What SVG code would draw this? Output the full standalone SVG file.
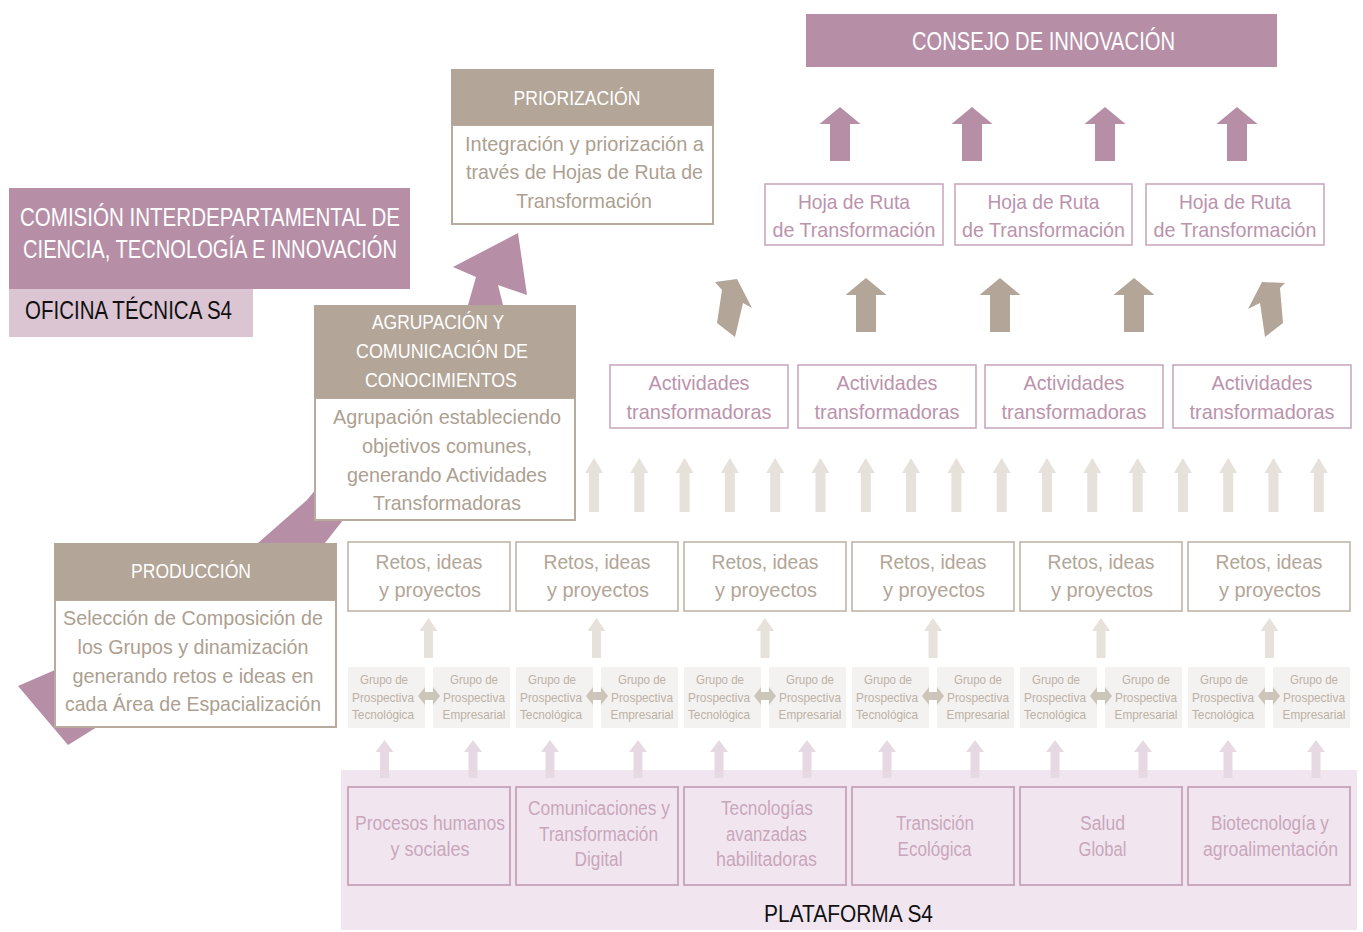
<svg xmlns="http://www.w3.org/2000/svg" width="1363" height="932" viewBox="0 0 1363 932">
<style>
text{font-family:"Liberation Sans",Arial,sans-serif;text-anchor:middle}
.wh{fill:#ffffff}
.hdr{fill:#b3a597}
.pur{fill:#b68ea6}
.body{fill:#ffffff;stroke:#b8ab9e;stroke-width:2}
.bt{fill:#ad9f91;font-size:21px}
.ht{fill:#ffffff;font-size:20px}
.reto{fill:#ffffff;stroke:#c0b4a8;stroke-width:1.6}
.rt{fill:#b3a597;font-size:21px}
.pk{fill:#ffffff;stroke:#caa9be;stroke-width:1.6}
.pkt{fill:#bb93ac;font-size:21px}
.grp{fill:#f4f2f0}
.gt{fill:#bcb1a6;font-size:13px}
.plat{fill:none;stroke:#c6a2b9;stroke-width:1.8}
.plt{fill:#c9a6bc;font-size:20px}
.la{fill:#e6e1db}
.pa{fill:#e7d9e3}
.ba{fill:#b3a597}
.da{fill:#cdc4ba}
</style>
<defs>
<path id="upL" d="M0,0 L9,15 L5,15 L5,54 L-5,54 L-5,15 L-9,15 Z"/>
<path id="upS" d="M0,0 L9,13 L4.5,13 L4.5,40 L-4.5,40 L-4.5,13 L-9,13 Z"/>
<path id="upP" d="M0,0 L9,12 L4.5,12 L4.5,38 L-4.5,38 L-4.5,12 L-9,12 Z"/>
<path id="upB" d="M0,0 L20.5,17 L10,17 L10,54 L-10,54 L-10,17 L-20.5,17 Z"/>
<path id="dbl" d="M-11,0 L-4,-9 L-4,-4 L4,-4 L4,-9 L11,0 L4,9 L4,4 L-4,4 L-4,9 Z"/>
</defs>
<rect width="1363" height="932" fill="#ffffff"/>

<g id="plataforma">
<rect x="341" y="770" width="1016" height="160" fill="#f1e6ef"/>
<text x="848.5" y="922" font-size="24" fill="#111111" textLength="169" lengthAdjust="spacingAndGlyphs">PLATAFORMA S4</text>
</g>

<g id="flow-arrow">
<path class="pur" d="M18,686 L68,745 L97,727 L325,543 L343,520 L503,305 L498,285 L527,295 L518,233 L453,267 L476,277 L468,305 L307,500 L258,543 L55,670 Z"/>
</g>

<g id="comision">
<rect x="9" y="188" width="401" height="101" class="pur"/>
<text x="210" y="226" font-size="26" class="wh" textLength="380" lengthAdjust="spacingAndGlyphs">COMISIÓN INTERDEPARTAMENTAL DE</text>
<text x="210" y="258" font-size="26" class="wh" textLength="374" lengthAdjust="spacingAndGlyphs">CIENCIA, TECNOLOGÍA E INNOVACIÓN</text>
</g>
<g id="oficina">
<rect x="9" y="289" width="244" height="48" fill="#dbc5d3"/>
<text x="128.5" y="319" font-size="25" fill="#111111" textLength="207" lengthAdjust="spacingAndGlyphs">OFICINA TÉCNICA S4</text>
</g>

<g id="consejo">
<rect x="806" y="14" width="471" height="53" class="pur"/>
<text x="1043.5" y="50" font-size="25" class="wh" textLength="263" lengthAdjust="spacingAndGlyphs">CONSEJO DE INNOVACIÓN</text>
</g>

<g id="priorizacion">
<rect x="452" y="125" width="261" height="99" class="body"/>
<rect x="451" y="69" width="263" height="56" class="hdr"/>
<text x="577" y="105" class="ht" textLength="127" lengthAdjust="spacingAndGlyphs">PRIORIZACIÓN</text>
<text x="584.5" y="151" class="bt" textLength="239" lengthAdjust="spacingAndGlyphs">Integración y priorización a</text>
<text x="584.5" y="179" class="bt" textLength="237" lengthAdjust="spacingAndGlyphs">través de Hojas de Ruta de</text>
<text x="584" y="208" class="bt" textLength="136" lengthAdjust="spacingAndGlyphs">Transformación</text>
</g>

<g id="agrupacion">
<rect x="315" y="398" width="260" height="122" class="body"/>
<rect x="314" y="305" width="262" height="93" class="hdr"/>
<text x="438" y="329" class="ht" textLength="132" lengthAdjust="spacingAndGlyphs">AGRUPACIÓN Y</text>
<text x="442" y="358" class="ht" textLength="172" lengthAdjust="spacingAndGlyphs">COMUNICACIÓN DE</text>
<text x="441" y="387" class="ht" textLength="152" lengthAdjust="spacingAndGlyphs">CONOCIMIENTOS</text>
<text x="447" y="424" class="bt" textLength="228" lengthAdjust="spacingAndGlyphs">Agrupación estableciendo</text>
<text x="447" y="453" class="bt" textLength="170" lengthAdjust="spacingAndGlyphs">objetivos comunes,</text>
<text x="447" y="482" class="bt" textLength="200" lengthAdjust="spacingAndGlyphs">generando Actividades</text>
<text x="447" y="510" class="bt" textLength="148" lengthAdjust="spacingAndGlyphs">Transformadoras</text>
</g>

<g id="produccion">
<rect x="55" y="600" width="281" height="127" class="body"/>
<rect x="54" y="543" width="283" height="57" class="hdr"/>
<text x="191" y="578" class="ht" textLength="120" lengthAdjust="spacingAndGlyphs">PRODUCCIÓN</text>
<text x="193" y="625" class="bt" textLength="260" lengthAdjust="spacingAndGlyphs">Selección de Composición de</text>
<text x="193" y="654" class="bt" textLength="231" lengthAdjust="spacingAndGlyphs">los Grupos y dinamización</text>
<text x="193" y="683" class="bt" textLength="241" lengthAdjust="spacingAndGlyphs">generando retos e ideas en</text>
<text x="193" y="711" class="bt" textLength="256" lengthAdjust="spacingAndGlyphs">cada Área de Espacialización</text>
</g>

<g id="hoja1">
<rect x="765" y="184" width="178" height="61" class="pk"/>
<text x="854" y="209" class="pkt" textLength="112" lengthAdjust="spacingAndGlyphs">Hoja de Ruta</text>
<text x="854" y="237" class="pkt" textLength="163" lengthAdjust="spacingAndGlyphs">de Transformación</text>
</g>
<g id="hoja2">
<rect x="955" y="184" width="177" height="61" class="pk"/>
<text x="1043.5" y="209" class="pkt" textLength="112" lengthAdjust="spacingAndGlyphs">Hoja de Ruta</text>
<text x="1043.5" y="237" class="pkt" textLength="163" lengthAdjust="spacingAndGlyphs">de Transformación</text>
</g>
<g id="hoja3">
<rect x="1146" y="184" width="178" height="61" class="pk"/>
<text x="1235" y="209" class="pkt" textLength="112" lengthAdjust="spacingAndGlyphs">Hoja de Ruta</text>
<text x="1235" y="237" class="pkt" textLength="163" lengthAdjust="spacingAndGlyphs">de Transformación</text>
</g>

<g id="act1">
<rect x="610" y="365" width="178" height="63" class="pk"/>
<text x="699" y="390" class="pkt" textLength="101" lengthAdjust="spacingAndGlyphs">Actividades</text>
<text x="699" y="419" class="pkt" textLength="145" lengthAdjust="spacingAndGlyphs">transformadoras</text>
</g>
<g id="act2">
<rect x="798" y="365" width="178" height="63" class="pk"/>
<text x="887" y="390" class="pkt" textLength="101" lengthAdjust="spacingAndGlyphs">Actividades</text>
<text x="887" y="419" class="pkt" textLength="145" lengthAdjust="spacingAndGlyphs">transformadoras</text>
</g>
<g id="act3">
<rect x="985" y="365" width="178" height="63" class="pk"/>
<text x="1074" y="390" class="pkt" textLength="101" lengthAdjust="spacingAndGlyphs">Actividades</text>
<text x="1074" y="419" class="pkt" textLength="145" lengthAdjust="spacingAndGlyphs">transformadoras</text>
</g>
<g id="act4">
<rect x="1173" y="365" width="178" height="63" class="pk"/>
<text x="1262" y="390" class="pkt" textLength="101" lengthAdjust="spacingAndGlyphs">Actividades</text>
<text x="1262" y="419" class="pkt" textLength="145" lengthAdjust="spacingAndGlyphs">transformadoras</text>
</g>

<g id="retos1"><rect x="348" y="542" width="162" height="69" class="reto"/>
<text x="429" y="569" class="rt" textLength="107" lengthAdjust="spacingAndGlyphs">Retos, ideas</text>
<text x="430" y="597" class="rt" textLength="102" lengthAdjust="spacingAndGlyphs">y proyectos</text></g>
<g id="retos2"><rect x="516" y="542" width="162" height="69" class="reto"/>
<text x="597" y="569" class="rt" textLength="107" lengthAdjust="spacingAndGlyphs">Retos, ideas</text>
<text x="598" y="597" class="rt" textLength="102" lengthAdjust="spacingAndGlyphs">y proyectos</text></g>
<g id="retos3"><rect x="684" y="542" width="162" height="69" class="reto"/>
<text x="765" y="569" class="rt" textLength="107" lengthAdjust="spacingAndGlyphs">Retos, ideas</text>
<text x="766" y="597" class="rt" textLength="102" lengthAdjust="spacingAndGlyphs">y proyectos</text></g>
<g id="retos4"><rect x="852" y="542" width="162" height="69" class="reto"/>
<text x="933" y="569" class="rt" textLength="107" lengthAdjust="spacingAndGlyphs">Retos, ideas</text>
<text x="934" y="597" class="rt" textLength="102" lengthAdjust="spacingAndGlyphs">y proyectos</text></g>
<g id="retos5"><rect x="1020" y="542" width="162" height="69" class="reto"/>
<text x="1101" y="569" class="rt" textLength="107" lengthAdjust="spacingAndGlyphs">Retos, ideas</text>
<text x="1102" y="597" class="rt" textLength="102" lengthAdjust="spacingAndGlyphs">y proyectos</text></g>
<g id="retos6"><rect x="1188" y="542" width="162" height="69" class="reto"/>
<text x="1269" y="569" class="rt" textLength="107" lengthAdjust="spacingAndGlyphs">Retos, ideas</text>
<text x="1270" y="597" class="rt" textLength="102" lengthAdjust="spacingAndGlyphs">y proyectos</text></g>

<g id="grupos1">
<rect x="348" y="667" width="77" height="61" class="grp"/><rect x="433" y="667" width="77" height="61" class="grp"/>
<text x="384" y="683.5" class="gt" textLength="48" lengthAdjust="spacingAndGlyphs">Grupo de</text>
<text x="383" y="701.5" class="gt" textLength="62" lengthAdjust="spacingAndGlyphs">Prospectiva</text>
<text x="383" y="718.5" class="gt" textLength="62" lengthAdjust="spacingAndGlyphs">Tecnológica</text>
<text x="474" y="683.5" class="gt" textLength="48" lengthAdjust="spacingAndGlyphs">Grupo de</text>
<text x="474" y="701.5" class="gt" textLength="62" lengthAdjust="spacingAndGlyphs">Prospectiva</text>
<text x="474" y="718.5" class="gt" textLength="63" lengthAdjust="spacingAndGlyphs">Empresarial</text>
</g>
<g id="grupos2">
<rect x="516" y="667" width="77" height="61" class="grp"/><rect x="601" y="667" width="77" height="61" class="grp"/>
<text x="552" y="683.5" class="gt" textLength="48" lengthAdjust="spacingAndGlyphs">Grupo de</text>
<text x="551" y="701.5" class="gt" textLength="62" lengthAdjust="spacingAndGlyphs">Prospectiva</text>
<text x="551" y="718.5" class="gt" textLength="62" lengthAdjust="spacingAndGlyphs">Tecnológica</text>
<text x="642" y="683.5" class="gt" textLength="48" lengthAdjust="spacingAndGlyphs">Grupo de</text>
<text x="642" y="701.5" class="gt" textLength="62" lengthAdjust="spacingAndGlyphs">Prospectiva</text>
<text x="642" y="718.5" class="gt" textLength="63" lengthAdjust="spacingAndGlyphs">Empresarial</text>
</g>
<g id="grupos3">
<rect x="684" y="667" width="77" height="61" class="grp"/><rect x="769" y="667" width="77" height="61" class="grp"/>
<text x="720" y="683.5" class="gt" textLength="48" lengthAdjust="spacingAndGlyphs">Grupo de</text>
<text x="719" y="701.5" class="gt" textLength="62" lengthAdjust="spacingAndGlyphs">Prospectiva</text>
<text x="719" y="718.5" class="gt" textLength="62" lengthAdjust="spacingAndGlyphs">Tecnológica</text>
<text x="810" y="683.5" class="gt" textLength="48" lengthAdjust="spacingAndGlyphs">Grupo de</text>
<text x="810" y="701.5" class="gt" textLength="62" lengthAdjust="spacingAndGlyphs">Prospectiva</text>
<text x="810" y="718.5" class="gt" textLength="63" lengthAdjust="spacingAndGlyphs">Empresarial</text>
</g>
<g id="grupos4">
<rect x="852" y="667" width="77" height="61" class="grp"/><rect x="937" y="667" width="77" height="61" class="grp"/>
<text x="888" y="683.5" class="gt" textLength="48" lengthAdjust="spacingAndGlyphs">Grupo de</text>
<text x="887" y="701.5" class="gt" textLength="62" lengthAdjust="spacingAndGlyphs">Prospectiva</text>
<text x="887" y="718.5" class="gt" textLength="62" lengthAdjust="spacingAndGlyphs">Tecnológica</text>
<text x="978" y="683.5" class="gt" textLength="48" lengthAdjust="spacingAndGlyphs">Grupo de</text>
<text x="978" y="701.5" class="gt" textLength="62" lengthAdjust="spacingAndGlyphs">Prospectiva</text>
<text x="978" y="718.5" class="gt" textLength="63" lengthAdjust="spacingAndGlyphs">Empresarial</text>
</g>
<g id="grupos5">
<rect x="1020" y="667" width="77" height="61" class="grp"/><rect x="1105" y="667" width="77" height="61" class="grp"/>
<text x="1056" y="683.5" class="gt" textLength="48" lengthAdjust="spacingAndGlyphs">Grupo de</text>
<text x="1055" y="701.5" class="gt" textLength="62" lengthAdjust="spacingAndGlyphs">Prospectiva</text>
<text x="1055" y="718.5" class="gt" textLength="62" lengthAdjust="spacingAndGlyphs">Tecnológica</text>
<text x="1146" y="683.5" class="gt" textLength="48" lengthAdjust="spacingAndGlyphs">Grupo de</text>
<text x="1146" y="701.5" class="gt" textLength="62" lengthAdjust="spacingAndGlyphs">Prospectiva</text>
<text x="1146" y="718.5" class="gt" textLength="63" lengthAdjust="spacingAndGlyphs">Empresarial</text>
</g>
<g id="grupos6">
<rect x="1188" y="667" width="77" height="61" class="grp"/><rect x="1273" y="667" width="77" height="61" class="grp"/>
<text x="1224" y="683.5" class="gt" textLength="48" lengthAdjust="spacingAndGlyphs">Grupo de</text>
<text x="1223" y="701.5" class="gt" textLength="62" lengthAdjust="spacingAndGlyphs">Prospectiva</text>
<text x="1223" y="718.5" class="gt" textLength="62" lengthAdjust="spacingAndGlyphs">Tecnológica</text>
<text x="1314" y="683.5" class="gt" textLength="48" lengthAdjust="spacingAndGlyphs">Grupo de</text>
<text x="1314" y="701.5" class="gt" textLength="62" lengthAdjust="spacingAndGlyphs">Prospectiva</text>
<text x="1314" y="718.5" class="gt" textLength="63" lengthAdjust="spacingAndGlyphs">Empresarial</text>
</g>

<g id="area1"><rect x="348" y="787" width="162" height="98" class="plat"/>
<text x="430" y="830" class="plt" textLength="150" lengthAdjust="spacingAndGlyphs">Procesos humanos</text>
<text x="430" y="856" class="plt" textLength="79" lengthAdjust="spacingAndGlyphs">y sociales</text></g>
<g id="area2"><rect x="516" y="787" width="162" height="98" class="plat"/>
<text x="599" y="815" class="plt" textLength="142" lengthAdjust="spacingAndGlyphs">Comunicaciones y</text>
<text x="598.5" y="841" class="plt" textLength="119" lengthAdjust="spacingAndGlyphs">Transformación</text>
<text x="598.5" y="866" class="plt" textLength="48" lengthAdjust="spacingAndGlyphs">Digital</text></g>
<g id="area3"><rect x="684" y="787" width="162" height="98" class="plat"/>
<text x="767" y="815" class="plt" textLength="92" lengthAdjust="spacingAndGlyphs">Tecnologías</text>
<text x="766.5" y="841" class="plt" textLength="81" lengthAdjust="spacingAndGlyphs">avanzadas</text>
<text x="766.5" y="866" class="plt" textLength="101" lengthAdjust="spacingAndGlyphs">habilitadoras</text></g>
<g id="area4"><rect x="852" y="787" width="162" height="98" class="plat"/>
<text x="935" y="830" class="plt" textLength="78" lengthAdjust="spacingAndGlyphs">Transición</text>
<text x="934.5" y="856" class="plt" textLength="74" lengthAdjust="spacingAndGlyphs">Ecológica</text></g>
<g id="area5"><rect x="1020" y="787" width="162" height="98" class="plat"/>
<text x="1102.5" y="830" class="plt" textLength="45" lengthAdjust="spacingAndGlyphs">Salud</text>
<text x="1102.5" y="856" class="plt" textLength="48" lengthAdjust="spacingAndGlyphs">Global</text></g>
<g id="area6"><rect x="1188" y="787" width="162" height="98" class="plat"/>
<text x="1270" y="830" class="plt" textLength="118" lengthAdjust="spacingAndGlyphs">Biotecnología y</text>
<text x="1270.5" y="856" class="plt" textLength="135" lengthAdjust="spacingAndGlyphs">agroalimentación</text></g>

<g id="connectors">
<use href="#upB" x="840" y="107" class="pur"/>
<use href="#upB" x="972" y="107" class="pur"/>
<use href="#upB" x="1105" y="107" class="pur"/>
<use href="#upB" x="1237" y="107" class="pur"/>
<polygon class="ba" points="715,282 737,279 752,308 743,303 735,337 717,323 722,290"/>
<use href="#upB" x="866" y="278" class="ba"/>
<use href="#upB" x="1000" y="278" class="ba"/>
<use href="#upB" x="1134" y="278" class="ba"/>
<polygon class="ba" points="1262,282 1285,283 1280,288 1283,323 1265,337 1260,303 1248,309"/>
<use href="#upL" x="594" y="458" class="la"/>
<use href="#upL" x="639.3" y="458" class="la"/>
<use href="#upL" x="684.6" y="458" class="la"/>
<use href="#upL" x="729.9" y="458" class="la"/>
<use href="#upL" x="775.2" y="458" class="la"/>
<use href="#upL" x="820.5" y="458" class="la"/>
<use href="#upL" x="865.8" y="458" class="la"/>
<use href="#upL" x="911.1" y="458" class="la"/>
<use href="#upL" x="956.4" y="458" class="la"/>
<use href="#upL" x="1001.7" y="458" class="la"/>
<use href="#upL" x="1047" y="458" class="la"/>
<use href="#upL" x="1092.3" y="458" class="la"/>
<use href="#upL" x="1137.6" y="458" class="la"/>
<use href="#upL" x="1182.9" y="458" class="la"/>
<use href="#upL" x="1228.2" y="458" class="la"/>
<use href="#upL" x="1273.5" y="458" class="la"/>
<use href="#upL" x="1318.8" y="458" class="la"/>
<use href="#upS" x="428.5" y="618" class="la"/>
<use href="#upS" x="596.5" y="618" class="la"/>
<use href="#upS" x="765" y="618" class="la"/>
<use href="#upS" x="933" y="618" class="la"/>
<use href="#upS" x="1101" y="618" class="la"/>
<use href="#upS" x="1269.5" y="618" class="la"/>
<use href="#dbl" x="429" y="696" class="da"/>
<use href="#dbl" x="597" y="696" class="da"/>
<use href="#dbl" x="765" y="696" class="da"/>
<use href="#dbl" x="933" y="696" class="da"/>
<use href="#dbl" x="1101" y="696" class="da"/>
<use href="#dbl" x="1269" y="696" class="da"/>
<use href="#upP" x="384.5" y="740" class="pa"/>
<use href="#upP" x="473" y="740" class="pa"/>
<use href="#upP" x="550" y="740" class="pa"/>
<use href="#upP" x="638" y="740" class="pa"/>
<use href="#upP" x="719" y="740" class="pa"/>
<use href="#upP" x="807" y="740" class="pa"/>
<use href="#upP" x="887" y="740" class="pa"/>
<use href="#upP" x="975" y="740" class="pa"/>
<use href="#upP" x="1055" y="740" class="pa"/>
<use href="#upP" x="1143" y="740" class="pa"/>
<use href="#upP" x="1228" y="740" class="pa"/>
<use href="#upP" x="1316" y="740" class="pa"/>
</g>
</svg>
